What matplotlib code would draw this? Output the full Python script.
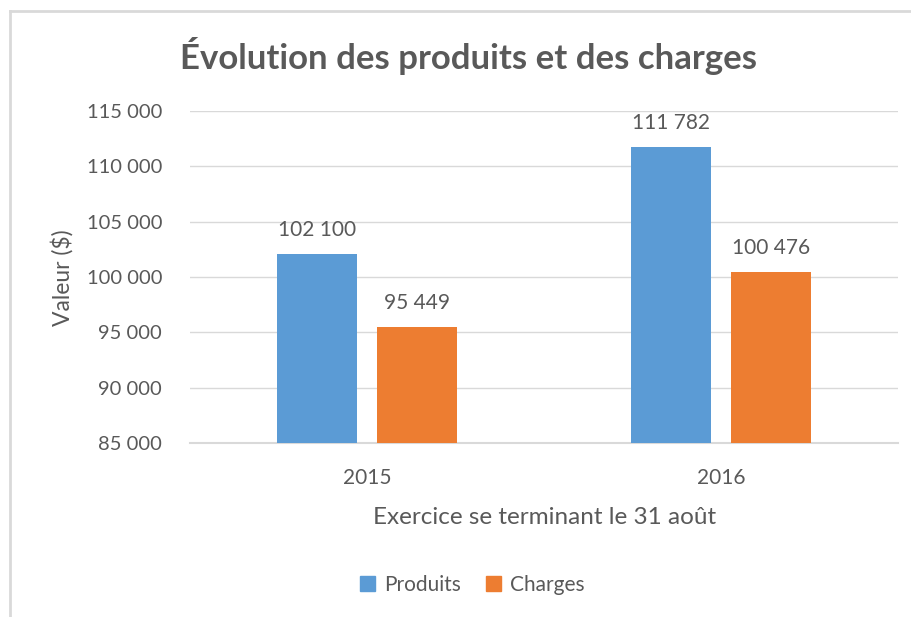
import matplotlib
matplotlib.use("Agg")
import matplotlib.pyplot as plt
import numpy as np
from matplotlib.lines import Line2D
from matplotlib.patches import Patch

years = ["2015", "2016"]
produits = [102100, 111782]
charges = [95449, 100476]
yticks = [85000, 90000, 95000, 100000, 105000, 110000, 115000]

def fmt(v):
    return f"{v:,}".replace(",", " ")

FONT = "Lato"
TXT = "#595959"
BLUE = "#5B9BD5"
ORANGE = "#ED7D31"
GRID = "#D9D9D9"

fig = plt.figure(figsize=(9.11, 6.17), dpi=100)
ax = fig.add_axes([190/911, 174/617, 708/911, 332/617])

x = np.arange(len(years))
w = 0.2257
off = 0.142
b1 = ax.bar(x - off, produits, w, color=BLUE, zorder=3)
b2 = ax.bar(x + off, charges, w, color=ORANGE, zorder=3)

for bars, vals in ((b1, produits), (b2, charges)):
    for r, v in zip(bars, vals):
        ax.annotate(fmt(v), (r.get_x() + r.get_width()/2, v), xytext=(0, 10),
                    textcoords="offset points", ha="center", va="bottom",
                    fontsize=15, color=TXT, family=FONT)

ax.set_xlim(-0.5, 1.5)
ax.set_ylim(85000, 115000)
ax.set_yticks(yticks)
ax.set_yticklabels([fmt(v) for v in yticks], fontsize=14.5, color=TXT, family=FONT)
ax.set_xticks(x)
ax.set_xticklabels(years, fontsize=15, color=TXT, family=FONT)
ax.tick_params(axis="both", length=0)
ax.tick_params(axis="y", pad=20)
ax.tick_params(axis="x", pad=18)
ax.grid(axis="y", color=GRID, linewidth=1, zorder=0)
for s in ["top", "right", "left"]:
    ax.spines[s].set_visible(False)
ax.spines["bottom"].set_color(GRID)
ax.spines["bottom"].set_linewidth(1.5)

fig.text(62/911, 1 - 278/617, "Valeur ($)", rotation=90, ha="center", va="center",
         fontsize=16.5, color=TXT, family=FONT)
fig.text(545/911, 1 - 517/617, "Exercice se terminant le 31 août", ha="center", va="center",
         fontsize=17.5, color=TXT, family=FONT)
fig.text(468/911, 1 - 56/617, "Évolution des produits et des charges", ha="center", va="center",
         fontsize=25, color=TXT, family=FONT, fontweight="bold")

handles = [Patch(color=BLUE, label="Produits"), Patch(color=ORANGE, label="Charges")]
leg = fig.legend(handles=handles, loc="center", bbox_to_anchor=(472/911, 1 - 585/617),
                 ncol=2, frameon=False, handlelength=0.75, handleheight=0.75,
                 handletextpad=0.4, columnspacing=1.2,
                 prop={"family": FONT, "size": 15})
for t in leg.get_texts():
    t.set_color(TXT)

# chart border
fig.add_artist(Line2D([10/911, 10/911], [0, 1 - 11/617], color=GRID, linewidth=2))
fig.add_artist(Line2D([10/911, 1], [1 - 11/617, 1 - 11/617], color=GRID, linewidth=2))

fig.savefig("out.png", dpi=100)
